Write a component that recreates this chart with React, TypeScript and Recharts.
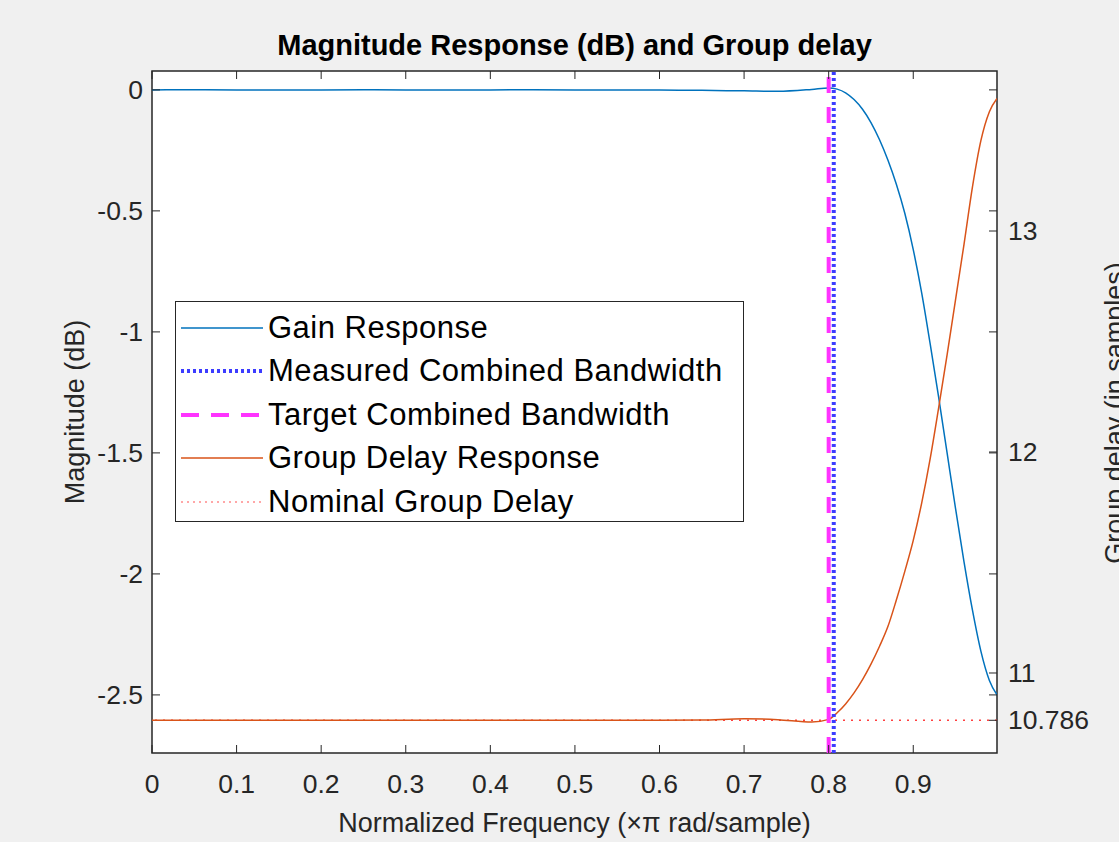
import React from 'react';
import {
  ComposedChart,
  Line,
  XAxis,
  YAxis,
  CartesianGrid,
  ReferenceLine,
  ReferenceArea,
  Legend,
} from 'recharts';

// normalized frequency (x pi rad/sample)
const FREQ = [
  0, 0.05, 0.1, 0.15, 0.2, 0.25, 0.3, 0.35, 0.4, 0.45, 0.5, 0.55, 0.6, 0.65, 0.7, 0.74, 0.78,
  0.8, 0.81, 0.82, 0.83, 0.84, 0.85, 0.86, 0.87, 0.88, 0.89, 0.9, 0.91, 0.92, 0.93, 0.94, 0.95,
  0.96, 0.97, 0.98, 0.99, 0.999,
];
// magnitude in dB
const GAIN = [
  0, 0.001, 0, -0.001, 0, 0.001, 0, -0.001, 0, 0.001, 0, -0.001, 0, -0.002, -0.004, -0.006, 0.002,
  0.008, 0.003, -0.012, -0.04, -0.08, -0.135, -0.205, -0.29, -0.39, -0.51, -0.66, -0.84, -1.05, -1.27,
  -1.5, -1.73, -1.95, -2.15, -2.32, -2.44, -2.5,
];
// group delay in samples
const DELAY = [
  10.786, 10.786, 10.786, 10.786, 10.786, 10.786, 10.786, 10.786, 10.786, 10.786, 10.786, 10.786,
  10.786, 10.787, 10.793, 10.789, 10.778,
  10.79, 10.82, 10.86, 10.91, 10.97, 11.04, 11.12, 11.21, 11.33, 11.46, 11.6, 11.77, 11.97, 12.2,
  12.44, 12.69, 12.94, 13.2, 13.41, 13.54, 13.6,
];

const X_TICKS = [0, 0.1, 0.2, 0.3, 0.4, 0.5, 0.6, 0.7, 0.8, 0.9];
const LEFT_TICKS = [-2.5, -2, -1.5, -1, -0.5, 0];
const RIGHT_TICKS = [10.786, 11, 12, 13];

const MEASURED_BW = 0.806;
const TARGET_BW = 0.8;
const NOMINAL_DELAY = 10.786;

const X_DOMAIN: [number, number] = [0, 0.999];
const LEFT_DOMAIN: [number, number] = [-2.74, 0.078];
const RIGHT_DOMAIN: [number, number] = [10.638, 13.724];

const data = FREQ.map((f, i) => ({ f, gain: GAIN[i], delay: DELAY[i] }));

const W = 1119;
const H = 842;
const PLOT_L = 152;
const PLOT_R = 997;
const PLOT_T = 71;
const PLOT_B = 753;
const TICK = 8;
const AX = '#262626';
const FONT = '"Liberation Sans", Arial, Helvetica, sans-serif';
const TICK_FS = 26.5;
const LABEL_FS = 27;

const LeftTick = (props: any) => {
  const { y, payload } = props;
  return (
    <g>
      <text x={PLOT_L - 9} y={y} textAnchor="end" dominantBaseline="central" fontSize={TICK_FS} fill={AX} fontFamily={FONT}>
        {String(payload.value)}
      </text>
      <line x1={PLOT_L} x2={PLOT_L + TICK} y1={y} y2={y} stroke={AX} />
      <line x1={PLOT_R - TICK} x2={PLOT_R} y1={y} y2={y} stroke={AX} />
    </g>
  );
};

const RightTick = (props: any) => {
  const { y, payload } = props;
  return (
    <g>
      <text x={PLOT_R + 11} y={y} textAnchor="start" dominantBaseline="central" fontSize={TICK_FS} fill={AX} fontFamily={FONT}>
        {String(payload.value)}
      </text>
      <line x1={PLOT_R - TICK} x2={PLOT_R} y1={y} y2={y} stroke={AX} />
    </g>
  );
};

const BottomTick = (props: any) => {
  const { x, payload } = props;
  return (
    <g>
      <text x={x} y={PLOT_B + 31} textAnchor="middle" dominantBaseline="central" fontSize={TICK_FS} fill={AX} fontFamily={FONT}>
        {String(payload.value)}
      </text>
      <line x1={x} x2={x} y1={PLOT_B - TICK} y2={PLOT_B} stroke={AX} />
      <line x1={x} x2={x} y1={PLOT_T} y2={PLOT_T + TICK} stroke={AX} />
    </g>
  );
};

const legendItems = [
  { label: 'Gain Response', color: '#0072BD', width: 1.5, dash: undefined },
  { label: 'Measured Combined Bandwidth', color: '#3c3cff', width: 4, dash: '3 3' },
  { label: 'Target Combined Bandwidth', color: '#ff33ff', width: 4, dash: '18 12' },
  { label: 'Group Delay Response', color: '#D95319', width: 1.5, dash: undefined },
  { label: 'Nominal Group Delay', color: '#ff5050', width: 1.2, dash: '2 4' },
];

const LegendBox = () => (
  <div
    style={{
      width: 569,
      height: 221,
      boxSizing: 'border-box',
      border: `1.5px solid ${AX}`,
      background: '#fff',
      paddingTop: 4,
      fontFamily: FONT,
    }}
  >
    {legendItems.map((it) => (
      <div key={it.label} style={{ display: 'flex', alignItems: 'center', height: 43.5 }}>
        <svg width={92} height={20} style={{ flex: 'none' }}>
          <line
            x1={5}
            x2={87}
            y1={10}
            y2={10}
            stroke={it.color}
            strokeWidth={it.width}
            strokeDasharray={it.dash}
          />
        </svg>
        <span style={{ fontSize: 31, letterSpacing: 0.5, color: '#000', whiteSpace: 'nowrap' }}>{it.label}</span>
      </div>
    ))}
  </div>
);

export default function App() {
  return (
    <div
      style={{
        position: 'absolute',
        left: 0,
        top: 0,
        width: W,
        height: H,
        overflow: 'hidden',
        background: '#f0f0f0',
        fontFamily: FONT,
      }}
    >
      <style>{'body{margin:0;background:#f0f0f0}'}</style>
      <ComposedChart
        width={W}
        height={H}
        data={data}
        margin={{ top: PLOT_T, right: 0, bottom: 0, left: 0 }}
      >
        <CartesianGrid fill="#ffffff" horizontal={false} vertical={false} stroke="none" />
        <XAxis
          dataKey="f"
          type="number"
          domain={X_DOMAIN}
          ticks={X_TICKS}
          allowDataOverflow
          height={H - PLOT_B}
          axisLine={false}
          tickLine={false}
          tick={<BottomTick />}
          interval={0}
        />
        <YAxis
          yAxisId="left"
          orientation="left"
          type="number"
          domain={LEFT_DOMAIN}
          ticks={LEFT_TICKS}
          allowDataOverflow
          width={PLOT_L}
          axisLine={false}
          tickLine={false}
          tick={<LeftTick />}
          interval={0}
        />
        <YAxis
          yAxisId="right"
          orientation="right"
          type="number"
          domain={RIGHT_DOMAIN}
          ticks={RIGHT_TICKS}
          allowDataOverflow
          width={W - PLOT_R}
          axisLine={false}
          tickLine={false}
          tick={<RightTick />}
          interval={0}
        />
        <ReferenceLine
          yAxisId="right"
          y={NOMINAL_DELAY}
          stroke="#ff4040"
          strokeWidth={1.5}
          strokeDasharray="2 6"
        />
        <Line
          yAxisId="left"
          dataKey="gain"
          type="monotone"
          stroke="#0072BD"
          strokeWidth={1.5}
          dot={false}
          isAnimationActive={false}
        />
        <Line
          yAxisId="right"
          dataKey="delay"
          type="monotone"
          stroke="#D95319"
          strokeWidth={1.5}
          dot={false}
          isAnimationActive={false}
        />
        <ReferenceLine
          yAxisId="left"
          x={TARGET_BW}
          stroke="#ff33ff"
          strokeWidth={4}
          strokeDasharray="16 14"
        />
        <ReferenceLine
          yAxisId="left"
          x={MEASURED_BW}
          stroke="#3c3cff"
          strokeWidth={4}
          strokeDasharray="3 3"
        />
        <ReferenceArea
          yAxisId="left"
          x1={X_DOMAIN[0]}
          x2={X_DOMAIN[1]}
          y1={LEFT_DOMAIN[0]}
          y2={LEFT_DOMAIN[1]}
          fill="none"
          stroke={AX}
          strokeWidth={1.5}
        />
        <Legend
          layout="horizontal"
          verticalAlign="middle"
          align="center"
          content={() => <LegendBox />}
          wrapperStyle={{ left: 175, top: 301, width: 569, height: 221 }}
        />
      </ComposedChart>
      <div
        style={{
          position: 'absolute',
          left: 0,
          width: W,
          top: 27,
          textAlign: 'center',
          paddingLeft: PLOT_L + PLOT_R - W,
          boxSizing: 'border-box',
          fontSize: 29,
          fontWeight: 'bold',
          color: '#000',
          lineHeight: '36px',
        }}
      >
        Magnitude Response (dB) and Group delay
      </div>
      <div
        style={{
          position: 'absolute',
          left: 0,
          width: W,
          top: 807,
          boxSizing: 'border-box',
          paddingLeft: PLOT_L + PLOT_R - W,
          textAlign: 'center',
          fontSize: LABEL_FS,
          color: AX,
          lineHeight: '32px',
        }}
      >
        Normalized Frequency ({'\u00d7'}{'\u03c0'} rad/sample)
      </div>
      <div
        style={{
          position: 'absolute',
          left: 75 - 200,
          top: 412 - 16,
          width: 400,
          textAlign: 'center',
          fontSize: LABEL_FS,
          color: AX,
          lineHeight: '32px',
          transform: 'rotate(-90deg)',
        }}
      >
        Magnitude (dB)
      </div>
      <div
        style={{
          position: 'absolute',
          left: 1115 - 200,
          top: 413 - 16,
          width: 400,
          textAlign: 'center',
          fontSize: LABEL_FS,
          color: AX,
          lineHeight: '32px',
          transform: 'rotate(-90deg)',
        }}
      >
        Group delay (in samples)
      </div>
    </div>
  );
}
